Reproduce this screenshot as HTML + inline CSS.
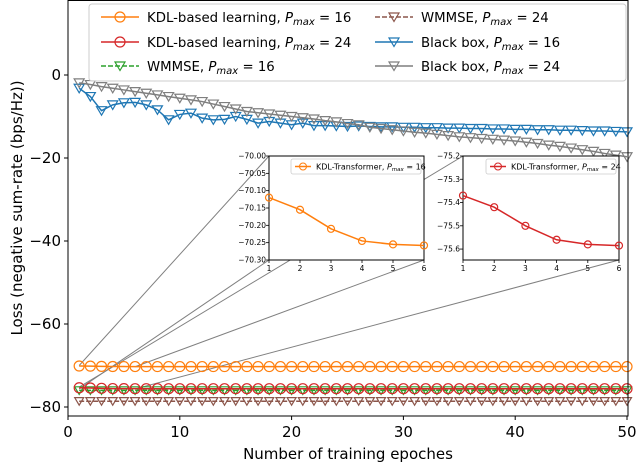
<!DOCTYPE html>
<html><head><meta charset="utf-8"><style>
body{margin:0;background:#fff}
svg{display:block;font-family:"DejaVu Sans","Liberation Sans",sans-serif}
</style></head><body>
<svg id="chart" width="636" height="464" viewBox="0 0 636 464" xmlns="http://www.w3.org/2000/svg">
<g id="connectors"></g>
<g id="main"></g>
<g id="insets"></g>
<g id="legend"></g>
</svg>
<script>
const kdl16=[-70.12,-70.155,-70.21,-70.245,-70.255,-70.258,-70.26,-70.26,-70.26,-70.26,-70.26,-70.26,-70.26,-70.26,-70.26,-70.26,-70.26,-70.26,-70.26,-70.26,-70.26,-70.26,-70.26,-70.26,-70.26,-70.26,-70.26,-70.26,-70.26,-70.26,-70.26,-70.26,-70.26,-70.26,-70.26,-70.26,-70.26,-70.26,-70.26,-70.26,-70.26,-70.26,-70.26,-70.26,-70.26,-70.26,-70.26,-70.26,-70.26,-70.26];
const kdl24=[-75.37,-75.42,-75.50,-75.56,-75.58,-75.585,-75.59,-75.59,-75.59,-75.59,-75.59,-75.59,-75.59,-75.59,-75.59,-75.59,-75.59,-75.59,-75.59,-75.59,-75.59,-75.59,-75.59,-75.59,-75.59,-75.59,-75.59,-75.59,-75.59,-75.59,-75.59,-75.59,-75.59,-75.59,-75.59,-75.59,-75.59,-75.59,-75.59,-75.59,-75.59,-75.59,-75.59,-75.59,-75.59,-75.59,-75.59,-75.59,-75.59,-75.59];
const wmmse16=[-76,-76,-76,-76,-76,-76,-76,-76,-76,-76,-76,-76,-76,-76,-76,-76,-76,-76,-76,-76,-76,-76,-76,-76,-76,-76,-76,-76,-76,-76,-76,-76,-76,-76,-76,-76,-76,-76,-76,-76,-76,-76,-76,-76,-76,-76,-76,-76,-76,-76];
const wmmse24=[-78.6,-78.6,-78.6,-78.6,-78.6,-78.6,-78.6,-78.6,-78.6,-78.6,-78.6,-78.6,-78.6,-78.6,-78.6,-78.6,-78.6,-78.6,-78.6,-78.6,-78.6,-78.6,-78.6,-78.6,-78.6,-78.6,-78.6,-78.6,-78.6,-78.6,-78.6,-78.6,-78.6,-78.6,-78.6,-78.6,-78.6,-78.6,-78.6,-78.6,-78.6,-78.6,-78.6,-78.6,-78.6,-78.6,-78.6,-78.6,-78.6,-78.6];
const bb16=[-3.2,-5.2,-8.6,-7.2,-6.7,-6.6,-7.2,-8.4,-10.8,-9.5,-9.2,-10.4,-10.8,-10.7,-10.0,-10.7,-11.6,-11.2,-11.6,-12.0,-11.6,-12.2,-12.2,-12.3,-12.4,-12.3,-12.4,-12.5,-12.5,-12.6,-12.6,-12.7,-12.7,-12.8,-12.8,-12.9,-12.9,-13.0,-13.0,-13.1,-13.1,-13.2,-13.2,-13.3,-13.3,-13.4,-13.5,-13.5,-13.6,-13.7];
const bb24=[-1.9,-2.3,-2.8,-3.2,-3.6,-4.0,-4.4,-4.8,-5.2,-5.6,-6.0,-6.4,-7.0,-7.6,-8.2,-8.8,-9.1,-9.4,-9.7,-10.0,-10.3,-10.6,-11.0,-11.3,-11.7,-12.0,-12.6,-12.9,-13.2,-13.5,-13.8,-14.0,-14.3,-14.6,-14.9,-15.1,-15.3,-15.5,-15.7,-15.9,-16.2,-16.5,-16.9,-17.2,-17.6,-18.0,-18.4,-18.9,-19.3,-19.7];
const xTicks=[0,10,20,30,40,50];
const yTicks=[0,-20,-40,-60,-80];
const in1Ticks=[-70.00,-70.05,-70.10,-70.15,-70.20,-70.25,-70.30];
const in2Ticks=[-75.2,-75.3,-75.4,-75.5,-75.6];
const inXTicks=[1,2,3,4,5,6];

const NS="http://www.w3.org/2000/svg";
function mk(tag,attrs,parent){const e=document.createElementNS(NS,tag);for(const k in attrs)e.setAttribute(k,attrs[k]);parent.appendChild(e);return e;}
const X=e=>68+e*11.18, Y=v=>75-v*4.15;
const main=document.getElementById('main');

function marker(g,kind,x,y,c,s){
  if(kind==='o'){const m=mk('circle',{cx:x,cy:y,r:s,fill:'none',stroke:c,'stroke-width':1.2},g);}
  else{const m=mk('polygon',{points:`${x-s},${y-s*0.8} ${x+s},${y-s*0.8} ${x},${y+s*0.9}`,fill:'none',stroke:c,'stroke-width':1.2},g);}
}
function series(parent,name,vals,c,kind,fx,fy,s,dash){
  const g=mk('g',{},parent);
  
  
  const pts=vals.map((v,i)=>fx(i+1)+','+fy(v)).join(' ');
  const l=mk('polyline',{points:pts,fill:'none',stroke:c,'stroke-width':1.5},g);
  if(dash)l.setAttribute('stroke-dasharray',dash);
  
  
  vals.forEach((v,i)=>marker(g,kind,fx(i+1),fy(v),c,s));
}
const con=document.getElementById('connectors');
[[X(1),Y(-70.0),269,156],[X(6),Y(-70.3),424,260],[X(1),Y(-75.2),463,156],[X(6),Y(-75.65),619,260],[X(1),Y(-75.65),269,260]].forEach(p=>{
  const l=mk('line',{x1:p[0],y1:p[1],x2:p[2],y2:p[3],stroke:'#808080','stroke-width':1},con);
  
  
});
series(main,'series-wmmse-24',wmmse24,'#8c564b','v',X,Y,4.5,'5,2');
series(main,'series-wmmse-16',wmmse16,'#2ca02c','v',X,Y,4.5,'5,2');
series(main,'series-kdl-24',kdl24,'#d62728','o',X,Y,5);
series(main,'series-kdl-16',kdl16,'#ff7f0e','o',X,Y,5);
series(main,'series-blackbox-16',bb16,'#1f77b4','v',X,Y,5);
series(main,'series-blackbox-24',bb24,'#7f7f7f','v',X,Y,5);
const ax=mk('rect',{x:68,y:0.5,width:560,height:415.5,fill:'none',stroke:'#000','stroke-width':1},main);

xTicks.forEach(t=>{mk('line',{x1:X(t),x2:X(t),y1:416,y2:420,stroke:'#000'},main);
  const tx=mk('text',{x:X(t),y:437,'font-size':15,'text-anchor':'middle'},main);tx.textContent=t;
  });
yTicks.forEach(t=>{mk('line',{x1:64,x2:68,y1:Y(t),y2:Y(t),stroke:'#000'},main);
  const tx=mk('text',{x:61,y:Y(t)+5,'font-size':15,'text-anchor':'end'},main);tx.textContent=t===0?'0':'\u2212'+Math.abs(t);
  });
const xl=mk('text',{x:348,y:459,'font-size':15,'text-anchor':'middle'},main);xl.textContent='Number of training epoches';

const yl=mk('text',{x:0,y:0,'font-size':15,'text-anchor':'middle',transform:'translate(22,208) rotate(-90)'},main);yl.textContent='Loss (negative sum-rate (bps/Hz))';


const ins=document.getElementById('insets');
function inset(name,x0,x1,lo,hi,ticks,vals,c,lab,dec){
  const g=mk('g',{},ins);
  
  
  mk('rect',{x:x0,y:156,width:x1-x0,height:104,fill:'#fff',stroke:'#000','stroke-width':1},g);
  const fx=e=>x0+(e-1)*(x1-x0)/5, fy=v=>156+(hi-v)/(hi-lo)*104;
  ticks.forEach(t=>{mk('line',{x1:x0-3,x2:x0,y1:fy(t),y2:fy(t),stroke:'#000','stroke-width':0.8},g);
    const tx=mk('text',{x:x0-3,y:fy(t)+2.5,'font-size':7.5,'text-anchor':'end'},g);tx.textContent='\u2212'+Math.abs(t).toFixed(dec);
    });
  inXTicks.forEach(t=>{mk('line',{x1:fx(t),x2:fx(t),y1:260,y2:263,stroke:'#000','stroke-width':0.8},g);
    const tx=mk('text',{x:fx(t),y:271,'font-size':7.5,'text-anchor':'middle'},g);tx.textContent=t;
    });
  series(g,name+'-series',vals.slice(0,6),c,'o',fx,fy,3.5);
  const lg=mk('g',{},g);
  
  
  mk('rect',{x:x1-133,y:159,width:130,height:15,fill:'#fff',stroke:'#ccc','stroke-width':0.8,rx:2},lg);
  mk('line',{x1:x1-129,x2:x1-113,y1:166.5,y2:166.5,stroke:c,'stroke-width':1.5},lg);
  mk('circle',{cx:x1-121,cy:166.5,r:3.5,fill:'none',stroke:c},lg);
  const t=mk('text',{x:x1-108,y:169.5,'font-size':8},lg);t.innerHTML=lab;
}
inset('inset-pmax-16',269,424,-70.30,-70.00,in1Ticks,kdl16,'#ff7f0e','KDL-Transformer, <tspan font-style="italic">P</tspan><tspan font-size="5.5" dy="1.5" font-style="italic">max</tspan><tspan dy="-1.5"> = 16</tspan>',2);
inset('inset-pmax-24',463,619,-75.647,-75.2,in2Ticks,kdl24,'#d62728','KDL-Transformer, <tspan font-style="italic">P</tspan><tspan font-size="5.5" dy="1.5" font-style="italic">max</tspan><tspan dy="-1.5"> = 24</tspan>',1);

const lg=document.getElementById('legend');
mk('rect',{x:89,y:4,width:537,height:77,fill:'#fff','fill-opacity':0.85,stroke:'#ccc',rx:3},lg);
const items=[
 ['legend-kdl-16','#ff7f0e','o','KDL-based learning, ','16',101,17,null],
 ['legend-kdl-24','#d62728','o','KDL-based learning, ','24',101,42,null],
 ['legend-wmmse-16','#2ca02c','v','WMMSE, ','16',101,66,'5,2'],
 ['legend-wmmse-24','#8c564b','v','WMMSE, ','24',375,17,'5,2'],
 ['legend-bb-16','#1f77b4','v','Black box, ','16',375,42,null],
 ['legend-bb-24','#7f7f7f','v','Black box, ','24',375,66,null]];
items.forEach(it=>{
  const g=mk('g',{},lg);
  
  
  const l=mk('line',{x1:it[5],x2:it[5]+38,y1:it[6],y2:it[6],stroke:it[1],'stroke-width':1.5},g);
  if(it[7])l.setAttribute('stroke-dasharray',it[7]);
  marker(g,it[2],it[5]+19,it[6],it[1],5);
  const t=mk('text',{x:it[5]+46,y:it[6]+5,'font-size':13.3},g);
  t.innerHTML=it[3]+'<tspan font-style="italic">P</tspan><tspan font-style="italic" font-size="10" dy="3">max</tspan><tspan dy="-3"> = '+it[4]+'</tspan>';
});
</script>
</body></html>
